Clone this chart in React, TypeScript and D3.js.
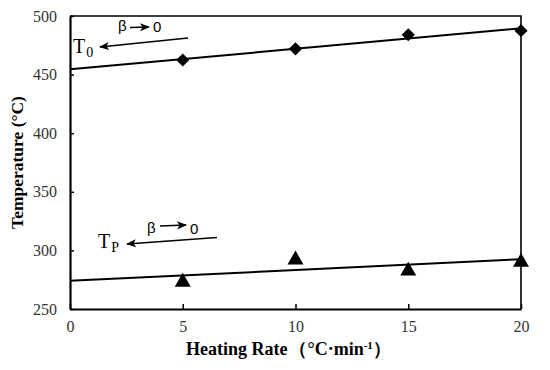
import { useEffect, useRef } from "react"
import * as d3 from "d3"

// heating rates (°C/min)
const rates = [5, 10, 15, 20]
// onset temperature T0 and peak temperature Tp
const t0Values = [462.5, 472, 484, 487.5]
const tpValues = [273, 292, 282.5, 290]
// linear fits, at beta = 0 and beta = 20
const t0Fit = [454.5, 489.5]
const tpFit = [274, 292.5]
const fitX = [0, 20]

const xTicks = [0, 5, 10, 15, 20]
const yTicks = [250, 300, 350, 400, 450, 500]

export default function App() {
  const svgRef = useRef<SVGSVGElement>(null)

  useEffect(() => {
    if (!svgRef.current) return
    const svg = d3.select(svgRef.current)
    svg.selectAll("*").remove()

    const width = 550
    const height = 370
    const margin = { top: 16, right: 29, bottom: 61, left: 70 }

    const x = d3.scaleLinear()
      .domain([0, 20])
      .range([margin.left, width - margin.right])
    const y = d3.scaleLinear()
      .domain([250, 500])
      .range([height - margin.bottom, margin.top])

    const serif = "Liberation Serif, Times New Roman, serif"
    const sans = "Liberation Sans, Arial, sans-serif"

    // frame (top and right)
    svg.append("path")
      .attr("d", `M${x(0)},${y(500)}H${x(20)}V${y(250)}`)
      .attr("fill", "none")
      .attr("stroke", "#000")
      .attr("stroke-width", 1.6)

    // axes
    const xAxis = svg.append("g")
      .attr("transform", `translate(0,${y(250)})`)
      .call(d3.axisBottom(x).tickValues(xTicks).tickSize(-5).tickPadding(12).tickSizeOuter(0))
    xAxis.select(".domain").attr("stroke-width", 2.2)
    xAxis.selectAll(".tick line").attr("stroke-width", 1.5)
    xAxis.selectAll(".tick text")
      .style("font-family", serif).style("font-size", "16px").attr("fill", "#333")

    const yAxis = svg.append("g")
      .attr("transform", `translate(${x(0)},0)`)
      .call(d3.axisLeft(y).tickValues(yTicks).tickSize(-4).tickPadding(13).tickSizeOuter(0))
    yAxis.select(".domain").attr("stroke-width", 2.2)
    yAxis.selectAll(".tick line").attr("stroke-width", 1.5)
    yAxis.selectAll(".tick text")
      .style("font-family", serif).style("font-size", "16px").attr("fill", "#333")

    // fit lines
    const line = d3.line<number>()
      .x((_d, i) => x(fitX[i]))
      .y(d => y(d))
    ;[t0Fit, tpFit].forEach(fit => {
      svg.append("path")
        .datum(fit)
        .attr("fill", "none")
        .attr("stroke", "#000")
        .attr("stroke-width", 2)
        .attr("d", line)
    })

    // markers
    svg.append("g").selectAll("path")
      .data(t0Values)
      .join("path")
      .attr("transform", (d, i) => `translate(${x(rates[i])},${y(d)})`)
      .attr("d", d3.symbol(d3.symbolDiamond2, 110))
      .attr("fill", "#000")
    svg.append("g").selectAll("path")
      .data(tpValues)
      .join("path")
      .attr("transform", (d, i) => `translate(${x(rates[i])},${y(d)})`)
      .attr("d", d3.symbol(d3.symbolTriangle, 110))
      .attr("fill", "#000")

    // arrow heads
    const defs = svg.append("defs")
    defs.append("marker")
      .attr("id", "arr")
      .attr("viewBox", "0 0 10 10")
      .attr("refX", 9).attr("refY", 5)
      .attr("markerWidth", 10).attr("markerHeight", 9)
      .attr("markerUnits", "userSpaceOnUse")
      .attr("orient", "auto")
      .attr("preserveAspectRatio", "none")
      .append("path")
      .attr("d", "M0,0.5L10,5L0,9.5L2.5,5Z")
      .attr("fill", "#000")

    // annotations
    const notes = [
      { label: "0", tx: 73, ty: 53, bx: 118, by: 31, a1: [130, 27.5, 149, 27], a2: [188, 38, 100, 47] },
      { label: "P", tx: 98, ty: 248, bx: 147, by: 233, a1: [160, 226, 186, 225], a2: [217, 237.5, 127, 244] },
    ]
    notes.forEach(n => {
      const t = svg.append("text")
        .attr("x", n.tx).attr("y", n.ty)
        .style("font-family", serif).style("font-size", "20px")
      t.append("tspan").text("T")
      t.append("tspan").style("font-size", "14px").attr("dy", 4).attr("dx", 1).text(n.label)

      svg.append("text")
        .attr("x", n.bx).attr("y", n.by)
        .style("font-family", sans).style("font-size", "15px")
        .text("β")
      svg.append("text")
        .attr("x", n.a1[2] + 4).attr("y", n.by + 1)
        .style("font-family", sans).style("font-size", "15px")
        .text("0")
      ;[n.a1, n.a2].forEach(a => {
        svg.append("line")
          .attr("x1", a[0]).attr("y1", a[1])
          .attr("x2", a[2]).attr("y2", a[3])
          .attr("stroke", "#000").attr("stroke-width", 1.4)
          .attr("marker-end", "url(#arr)")
      })
    })

    // axis titles
    const xt = svg.append("text")
      .attr("x", 186).attr("y", 355)
      .style("font-family", serif).style("font-size", "18px").style("font-weight", "bold")
    xt.append("tspan").text("Heating Rate")
    xt.append("tspan").attr("dx", 2).text("（°C·min")
    xt.append("tspan").style("font-size", "11px").attr("dy", -6).text("-1")
    xt.append("tspan").attr("dy", 6).text("）")

    svg.append("text")
      .attr("transform", `translate(23,${(y(250) + y(500)) / 2}) rotate(-90)`)
      .attr("text-anchor", "middle")
      .style("font-family", serif).style("font-size", "17.5px").style("font-weight", "bold")
      .text("Temperature (°C)")
  }, [])

  return (
    <div style={{ position: "absolute", left: 0, top: 0, background: "#fff" }}>
      <svg ref={svgRef} width={550} height={370} style={{ display: "block" }} />
    </div>
  )
}
